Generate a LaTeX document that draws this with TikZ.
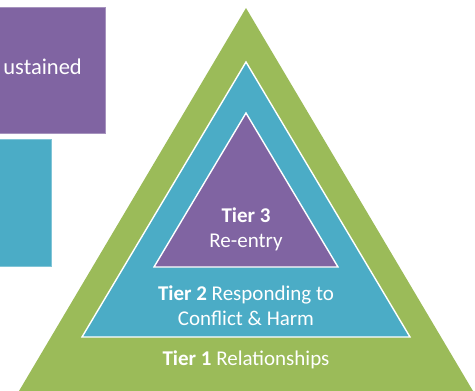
\documentclass[tikz,border=0pt]{standalone}
\usepackage{fontspec}
\setmainfont{Carlito}
\definecolor{tgreen}{HTML}{9BBB59}
\definecolor{tblue}{HTML}{4BACC6}
\definecolor{tpurple}{HTML}{8064A2}
\begin{document}
\begin{tikzpicture}[x=1pt,y=-1pt,
  lbl/.style={text=white,font=\fontsize{21}{25}\selectfont,align=center,inner sep=0pt},
  tri/.style={draw=white,line width=1.4pt,line join=miter}]
\useasboundingbox (0,0) rectangle (475,391);
\begin{scope}
\clip (0,0) rectangle (475,391);
% boxes at left
\fill[tpurple] (-20,7) rectangle (105,133);
\draw[tpurple!70!white,line width=0.8pt] (-20,7) rectangle (105,133);
\fill[tblue] (-20,139) rectangle (51,266);
\draw[tblue!70!white,line width=0.8pt] (-20,139) rectangle (51,266);
% pyramid
\coordinate (g1) at (246,8);
\coordinate (g2) at (473,391);
\coordinate (g3) at (19,391);
\fill[tgreen] (g1) -- (g2) -- (g3) -- cycle;
\coordinate (b1) at (246,62);
\coordinate (b2) at (410,337);
\coordinate (b3) at (82,337);
\filldraw[tri,fill=tblue] (b1) -- (b2) -- (b3) -- cycle;
\coordinate (p1) at (246,113);
\coordinate (p2) at (338,267);
\coordinate (p3) at (154,267);
\filldraw[tri,fill=tpurple] (p1) -- (p2) -- (p3) -- cycle;
\end{scope}
\node[anchor=east,text=white,font=\fontsize{22.5}{27}\selectfont,inner sep=0pt] (sus) at (82,67) {ustained};
\node[lbl] (t3) at (246,229) {\textbf{Tier 3}\\Re-entry};
\node[lbl] (t2) at (246,306) {\textbf{Tier 2} Responding to\\Conflict \& Harm};
\node[lbl] (t1) at (246,360) {\textbf{Tier 1} Relationships};
\end{tikzpicture}
\end{document}
